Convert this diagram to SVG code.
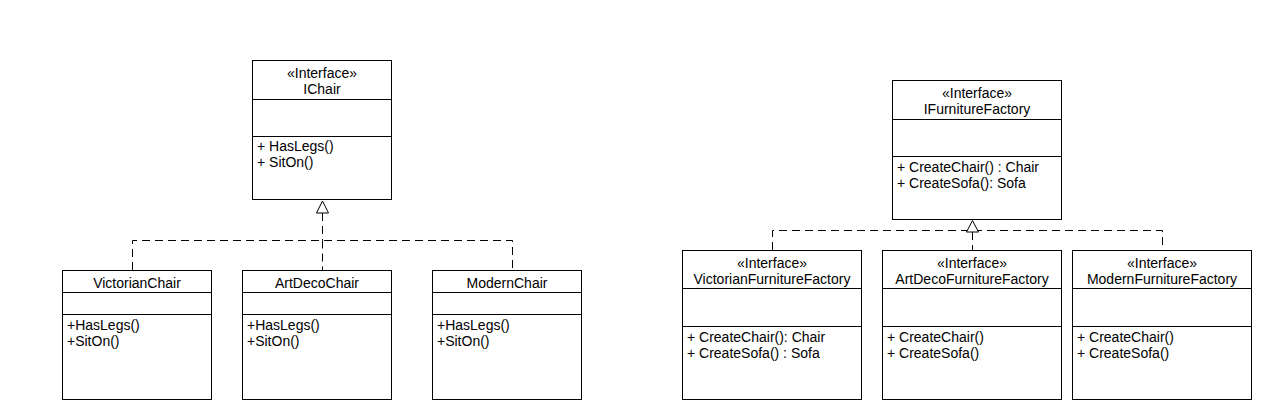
<svg xmlns="http://www.w3.org/2000/svg" width="1268" height="415" viewBox="0 0 1268 415">
<defs>
<style>
.box{fill:#fff;stroke:#000;stroke-width:1}
.sep{stroke:#000;stroke-width:1}
text{font-family:"Liberation Sans",Arial,sans-serif;font-size:14px;fill:#000}
.c{text-anchor:middle}
.dash{fill:none;stroke:#000;stroke-width:1;stroke-dasharray:8 5}
.tri{fill:#fff;stroke:#000;stroke-width:1}
</style>
</defs>
<rect width="1268" height="415" fill="#fff"/>
<g id="connectors">
<path class="dash" d="M322.5 213 V240.5 M132.5 270 V240.5 H512.5 V270 M322.5 240.5 V270"/>
<polygon class="tri" points="322.5,201 316.5,213 328.5,213"/>
<path class="dash" d="M972.5 232 V250 M772.5 250 V230.5 H1162.5 V250"/>
<polygon class="tri" points="972.5,220.5 966.5,232 978.5,232"/>
</g>
<g id="IChair">
<rect class="box" x="252.5" y="60.5" width="139" height="139"/>
<line class="sep" x1="252.5" y1="99.5" x2="391.5" y2="99.5"/>
<line class="sep" x1="252.5" y1="136.5" x2="391.5" y2="136.5"/>
<text class="c" x="322" y="78">«Interface»</text>
<text class="c" x="322" y="94">IChair</text>
<text x="257" y="151">+ HasLegs()</text>
<text x="257" y="167">+ SitOn()</text>
</g>
<g id="VictorianChair">
<rect class="box" x="62.5" y="270.5" width="149" height="129"/>
<line class="sep" x1="62.5" y1="292.5" x2="211.5" y2="292.5"/>
<line class="sep" x1="62.5" y1="314.5" x2="211.5" y2="314.5"/>
<text class="c" x="137" y="288">VictorianChair</text>
<text x="67" y="330">+HasLegs()</text>
<text x="67" y="346">+SitOn()</text>
</g>
<g id="ArtDecoChair">
<rect class="box" x="242.5" y="270.5" width="149" height="129"/>
<line class="sep" x1="242.5" y1="292.5" x2="391.5" y2="292.5"/>
<line class="sep" x1="242.5" y1="314.5" x2="391.5" y2="314.5"/>
<text class="c" x="317" y="288">ArtDecoChair</text>
<text x="247" y="330">+HasLegs()</text>
<text x="247" y="346">+SitOn()</text>
</g>
<g id="ModernChair">
<rect class="box" x="432.5" y="270.5" width="149" height="129"/>
<line class="sep" x1="432.5" y1="292.5" x2="581.5" y2="292.5"/>
<line class="sep" x1="432.5" y1="314.5" x2="581.5" y2="314.5"/>
<text class="c" x="507" y="288">ModernChair</text>
<text x="437" y="330">+HasLegs()</text>
<text x="437" y="346">+SitOn()</text>
</g>
<g id="IFurnitureFactory">
<rect class="box" x="892.5" y="80.5" width="169" height="139"/>
<line class="sep" x1="892.5" y1="119.5" x2="1061.5" y2="119.5"/>
<line class="sep" x1="892.5" y1="156.5" x2="1061.5" y2="156.5"/>
<text class="c" x="977" y="98">«Interface»</text>
<text class="c" x="977" y="114">IFurnitureFactory</text>
<text x="897" y="172">+ CreateChair() : Chair</text>
<text x="897" y="188">+ CreateSofa(): Sofa</text>
</g>
<g id="VictorianFurnitureFactory">
<rect class="box" x="682.5" y="250.5" width="179" height="149"/>
<line class="sep" x1="682.5" y1="288.5" x2="861.5" y2="288.5"/>
<line class="sep" x1="682.5" y1="326.5" x2="861.5" y2="326.5"/>
<text class="c" x="772" y="268">«Interface»</text>
<text class="c" x="772" y="284">VictorianFurnitureFactory</text>
<text x="687" y="342">+ CreateChair(): Chair</text>
<text x="687" y="358">+ CreateSofa() : Sofa</text>
</g>
<g id="ArtDecoFurnitureFactory">
<rect class="box" x="882.5" y="250.5" width="179" height="149"/>
<line class="sep" x1="882.5" y1="288.5" x2="1061.5" y2="288.5"/>
<line class="sep" x1="882.5" y1="326.5" x2="1061.5" y2="326.5"/>
<text class="c" x="972" y="268">«Interface»</text>
<text class="c" x="972" y="284">ArtDecoFurnitureFactory</text>
<text x="887" y="342">+ CreateChair()</text>
<text x="887" y="358">+ CreateSofa()</text>
</g>
<g id="ModernFurnitureFactory">
<rect class="box" x="1072.5" y="250.5" width="179" height="149"/>
<line class="sep" x1="1072.5" y1="288.5" x2="1251.5" y2="288.5"/>
<line class="sep" x1="1072.5" y1="326.5" x2="1251.5" y2="326.5"/>
<text class="c" x="1162" y="268">«Interface»</text>
<text class="c" x="1162" y="284">ModernFurnitureFactory</text>
<text x="1077" y="342">+ CreateChair()</text>
<text x="1077" y="358">+ CreateSofa()</text>
</g>
</svg>
